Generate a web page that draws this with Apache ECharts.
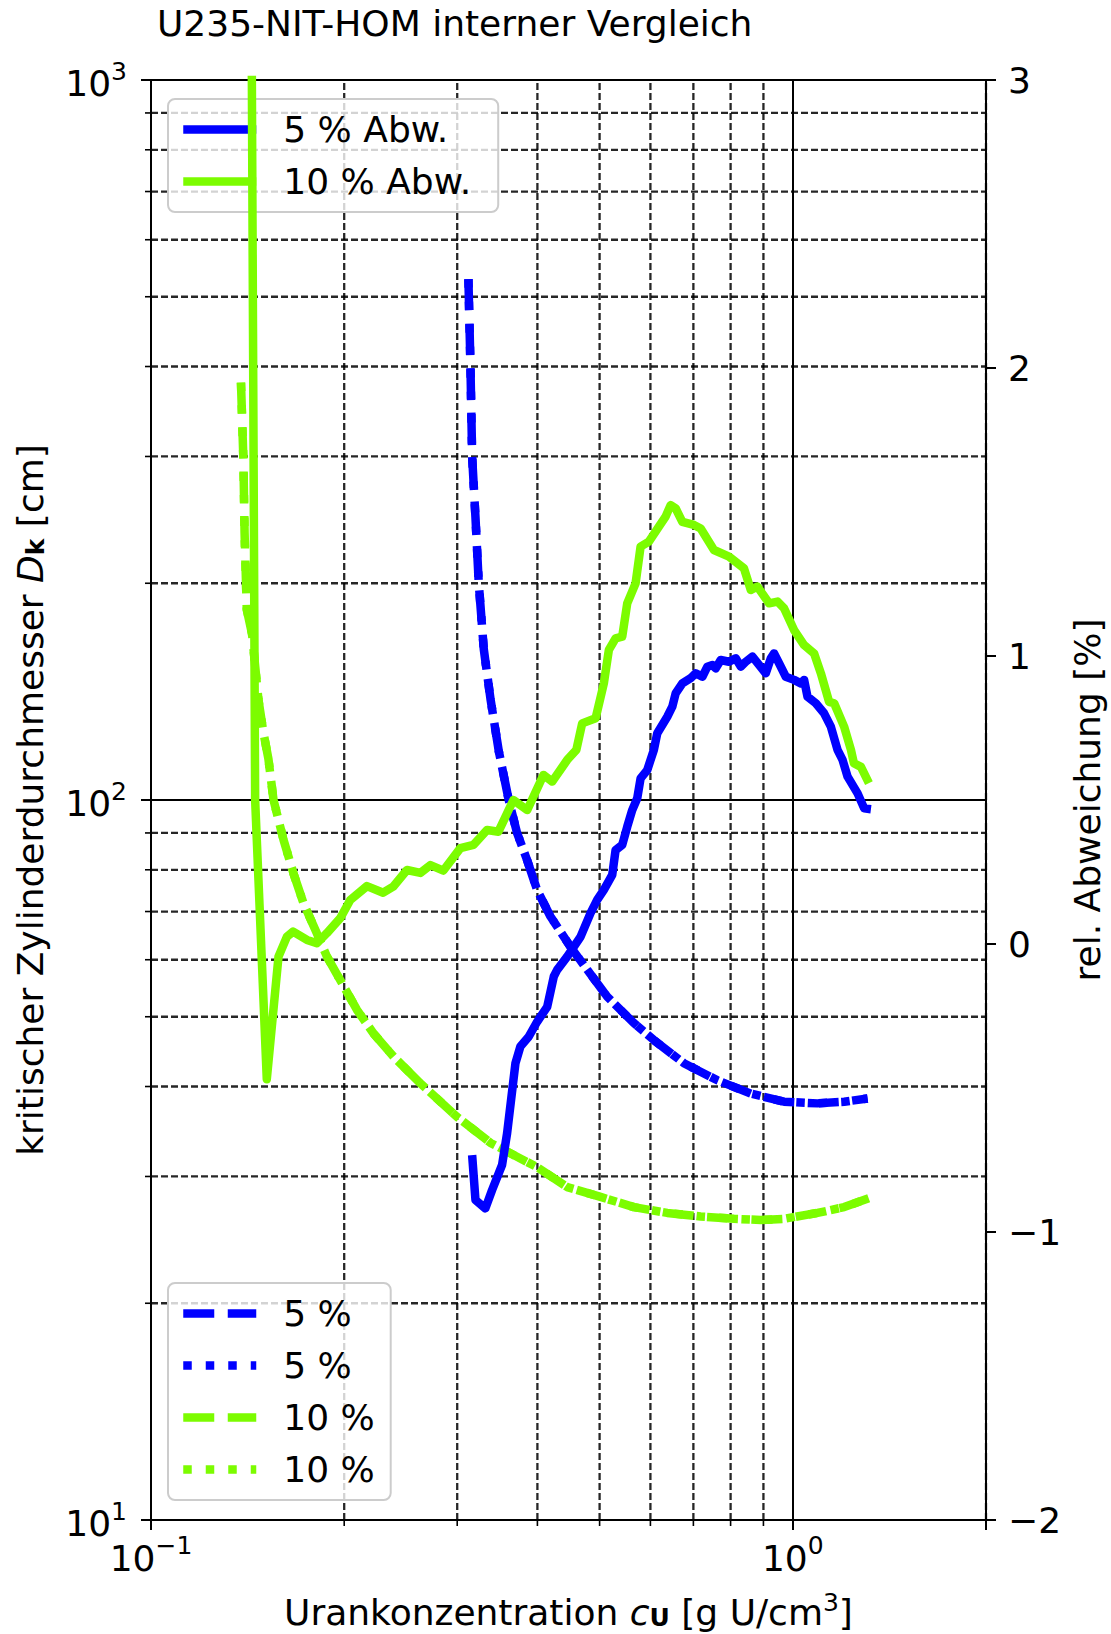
<!DOCTYPE html>
<html>
<head>
<meta charset="utf-8">
<style>
  html, body { margin: 0; padding: 0; background: #ffffff; }
  #chart { width: 1111px; height: 1634px; }
</style>
<script src="https://cdn.jsdelivr.net/npm/echarts@6/dist/echarts.min.js"></script>
</head>
<body>
<div id="chart"></div>
<script>
// ---------------- data ----------------
// 5 % enrichment, critical diameter D_k [cm], calculation 1 (dashed)
const blueDashX = [0.3123, 0.3146, 0.3165, 0.3203, 0.3241, 0.330, 0.3381, 0.3482, 0.3609, 0.3719, 0.3855, 0.3996, 0.4192, 0.4505, 0.4784, 0.5140, 0.5654, 0.6075, 0.6766, 0.7630, 0.8601, 0.9691, 1.0927, 1.2023, 1.3078];
const blueDashY = [529, 400, 300, 247, 200, 162, 138, 117, 100, 90.0, 82.5, 75.0, 68.9, 62.5, 58.1, 53.3, 49.0, 46.4, 43.1, 40.8, 39.1, 38.1, 37.9, 38.1, 38.5];
// 5 % enrichment, calculation 2 (dotted) - visually coincides with the dashed curve
const blueDotX = [0.3123, 0.3146, 0.3165, 0.3203, 0.3241, 0.330, 0.3381, 0.3482, 0.3609, 0.3719, 0.3855, 0.3996, 0.4192, 0.4505, 0.4784, 0.5140, 0.5654, 0.6075, 0.6766, 0.7630, 0.8601, 0.9691, 1.0927, 1.2023, 1.3078];
const blueDotY = [529, 400, 300, 247, 200, 162, 138, 117, 100, 90.0, 82.5, 75.0, 68.9, 62.5, 58.1, 53.3, 49.0, 46.4, 43.1, 40.8, 39.1, 38.1, 37.9, 38.1, 38.5];
// 10 % enrichment, calculation 1 (dashed)
const greenDashX = [0.1381, 0.1393, 0.1399, 0.1410, 0.1437, 0.1470, 0.1497, 0.1524, 0.1552, 0.1609, 0.1667, 0.1728, 0.1813, 0.1880, 0.1972, 0.2094, 0.2222, 0.2388, 0.2629, 0.2998, 0.3381, 0.3996, 0.4451, 0.5017, 0.5654, 0.6374, 0.7186, 0.8099, 0.8915, 0.9691, 1.0927, 1.2023, 1.3150];
const greenDashY = [380, 297, 235, 184, 170, 138, 124, 114, 100, 88.0, 79.1, 71.9, 65.3, 60.6, 56.2, 51.1, 47.4, 44.0, 40.4, 36.3, 33.4, 30.9, 29.0, 28.1, 27.2, 26.7, 26.4, 26.2, 26.1, 26.2, 26.7, 27.2, 28.0];
// 10 % enrichment, calculation 2 (dotted)
const greenDotX = [0.1381, 0.1393, 0.1399, 0.1410, 0.1437, 0.1470, 0.1497, 0.1524, 0.1552, 0.1609, 0.1667, 0.1728, 0.1813, 0.1880, 0.1972, 0.2094, 0.2222, 0.2388, 0.2629, 0.2998, 0.3381, 0.3996, 0.4451, 0.5017, 0.5654, 0.6374, 0.7186, 0.8099, 0.8915, 0.9691, 1.0927, 1.2023, 1.3150];
const greenDotY = [380, 297, 235, 184, 170, 138, 124, 114, 100, 88.0, 79.1, 71.9, 65.3, 60.6, 56.2, 51.1, 47.4, 44.0, 40.4, 36.3, 33.4, 30.9, 29.0, 28.1, 27.2, 26.7, 26.4, 26.2, 26.1, 26.2, 26.7, 27.2, 28.0];
// relative deviation [%], 5 %
const blueRelX = [0.3165, 0.3203, 0.3319, 0.3400, 0.3524, 0.3588, 0.3697, 0.3763, 0.3877, 0.3996, 0.4143, 0.4242, 0.4294, 0.4451, 0.4669, 0.4840, 0.4957, 0.5077, 0.5232, 0.5295, 0.5423, 0.5521, 0.5621, 0.5723, 0.5792, 0.5932, 0.6075, 0.6150, 0.6374, 0.6490, 0.6568, 0.6728, 0.6932, 0.7058, 0.7229, 0.7360, 0.7493, 0.7584, 0.7721, 0.7955, 0.8149, 0.8297, 0.8447, 0.8652, 0.8859, 0.9075, 0.9241, 0.9350, 0.9519, 0.9752, 1.0046, 1.0292, 1.0414, 1.0541, 1.0861, 1.1189, 1.1462, 1.1741, 1.1955, 1.2172, 1.2617, 1.2920, 1.3236];
const blueRelY = [-0.733, -0.889, -0.918, -0.854, -0.767, -0.657, -0.414, -0.356, -0.322, -0.270, -0.218, -0.113, -0.090, -0.044, 0.025, 0.107, 0.153, 0.188, 0.240, 0.326, 0.344, 0.407, 0.465, 0.506, 0.575, 0.604, 0.674, 0.732, 0.789, 0.824, 0.870, 0.905, 0.923, 0.940, 0.928, 0.963, 0.969, 0.957, 0.986, 0.980, 0.992, 0.963, 0.980, 0.998, 0.969, 0.940, 0.992, 1.009, 0.975, 0.928, 0.917, 0.905, 0.917, 0.859, 0.836, 0.801, 0.755, 0.674, 0.639, 0.581, 0.523, 0.471, 0.468];
// relative deviation [%], 10 %
const greenRelX = [0.1432, 0.1453, 0.1515, 0.1580, 0.1628, 0.1665, 0.1750, 0.1813, 0.1880, 0.1972, 0.2044, 0.2170, 0.2300, 0.2384, 0.2505, 0.2629, 0.2725, 0.2855, 0.3034, 0.3180, 0.3340, 0.3478, 0.3670, 0.3857, 0.4088, 0.4218, 0.4451, 0.4600, 0.4697, 0.4929, 0.5077, 0.5169, 0.5295, 0.5423, 0.5521, 0.5689, 0.5792, 0.5967, 0.6185, 0.6336, 0.6451, 0.6568, 0.6728, 0.7015, 0.7186, 0.7536, 0.7955, 0.8395, 0.8601, 0.8808, 0.9183, 0.9465, 0.9691, 1.0046, 1.0414, 1.0794, 1.1060, 1.1390, 1.1600, 1.2020, 1.2320, 1.2450, 1.2770, 1.3140];
const greenRelY = [3.6, 0.50, -0.47, -0.044, 0.025, 0.043, 0.014, 0.003, 0.038, 0.090, 0.153, 0.201, 0.178, 0.199, 0.257, 0.247, 0.274, 0.255, 0.333, 0.344, 0.396, 0.390, 0.500, 0.465, 0.587, 0.564, 0.639, 0.674, 0.766, 0.784, 0.905, 1.021, 1.061, 1.067, 1.183, 1.252, 1.380, 1.397, 1.449, 1.484, 1.524, 1.513, 1.466, 1.455, 1.443, 1.368, 1.345, 1.304, 1.229, 1.241, 1.183, 1.189, 1.166, 1.090, 1.038, 1.009, 0.940, 0.841, 0.836, 0.755, 0.674, 0.628, 0.615, 0.559];

// axis ticks
const xMinorTicks = [0.2, 0.3, 0.4, 0.5, 0.6, 0.7, 0.8, 0.9, 2];
const yMinorTicks = [20, 30, 40, 50, 60, 70, 80, 90, 200, 300, 400, 500, 600, 700, 800, 900];
const yRightTicks = [-2, -1, 0, 1, 2, 3];

// ---------------- styling ----------------
const FONT = 'DejaVu Sans';
const FS = 36;
const FS_SMALL = 25;
const BLUE = '#0000ff';
const GREEN = '#7cfc00';
const LW = 8.5;
const DASH = [31, 13.5];
const DOT = [8.5, 14];
const GRIDC = '#000000';

function zip(xs, ys) { return xs.map((x, i) => [x, ys[i]]); }

function powLabel(v) {
  const e = Math.log10(v);
  const r = Math.round(e);
  if (Math.abs(e - r) > 1e-6) return '';
  const s = r < 0 ? '\u2212' + Math.abs(r) : String(r);
  return '{b|10}{s|' + s + '}';
}

const tickRich = {
  b: { fontFamily: FONT, fontSize: FS, lineHeight: 43, verticalAlign: 'bottom', color: '#000' },
  s: { fontFamily: FONT, fontSize: FS_SMALL, lineHeight: 25, verticalAlign: 'top', color: '#000' }
};
const nameRich = {
  n: { fontFamily: FONT, fontSize: FS, lineHeight: 40, verticalAlign: 'bottom', color: '#000' },
  i: { fontFamily: FONT, fontSize: FS, lineHeight: 40, verticalAlign: 'bottom', fontStyle: 'italic', color: '#000' },
  k: { fontFamily: FONT, fontSize: FS_SMALL, lineHeight: 24, verticalAlign: 'bottom', fontWeight: 'bold', color: '#000' },
  s: { fontFamily: FONT, fontSize: FS_SMALL, lineHeight: 24, verticalAlign: 'top', color: '#000' }
};

function renderXMinor(params, api) {
  const cs = params.coordSys;
  const px = api.coord([api.value(0), api.value(1)])[0];
  const top = cs.y, bottom = cs.y + cs.height;
  return {
    type: 'group',
    children: [
      { type: 'line', shape: { x1: px, y1: bottom, x2: px, y2: top },
        style: { stroke: GRIDC, opacity: 0.85, lineWidth: 2.3, lineDash: [7, 3] } },
      { type: 'line', shape: { x1: px, y1: bottom, x2: px, y2: bottom + 6 },
        style: { stroke: '#000', lineWidth: 1.6 } }
    ]
  };
}
function renderYMinor(params, api) {
  const cs = params.coordSys;
  const py = api.coord([api.value(0), api.value(1)])[1];
  const left = cs.x, right = cs.x + cs.width;
  return {
    type: 'group',
    children: [
      { type: 'line', shape: { x1: left, y1: py, x2: right, y2: py },
        style: { stroke: GRIDC, opacity: 0.85, lineWidth: 2.3, lineDash: [7, 3] } },
      { type: 'line', shape: { x1: left - 6, y1: py, x2: left, y2: py },
        style: { stroke: '#000', lineWidth: 1.6 } }
    ]
  };
}

const legendCommon = {
  orient: 'vertical',
  left: 168,
  itemWidth: 73,
  itemHeight: 12,
  itemGap: 11,
  backgroundColor: 'rgba(255,255,255,0.8)',
  borderColor: '#cccccc',
  borderWidth: 2,
  borderRadius: 7,
  lineStyle: { width: LW },
  itemStyle: { opacity: 0 },
  textStyle: { fontFamily: FONT, fontSize: FS, color: '#000', lineHeight: 41, padding: [0, 0, 0, 22] },
  formatter: (n) => n.split('#')[0],
  selectedMode: false
};

const chart = echarts.init(document.getElementById('chart'), null, { renderer: 'svg' });
chart.setOption({
  animation: false,
  backgroundColor: '#ffffff',
  title: {
    text: 'U235-NIT-HOM interner Vergleich',
    left: 157, top: 2, padding: 0,
    textStyle: { fontFamily: FONT, fontSize: FS, fontWeight: 'normal', color: '#000', lineHeight: 43 }
  },
  grid: { left: 151, right: 125, top: 80, bottom: 114, show: true, borderColor: '#000', borderWidth: 2,
          backgroundColor: '#fff', outerBoundsMode: 'none', containLabel: false },
  legend: [
    Object.assign({}, legendCommon, {
      top: 99, padding: [10, 27, 10, 11],
      data: ['5 % Abw.', '10 % Abw.']
    }),
    Object.assign({}, legendCommon, {
      top: 1283, padding: [10, 16, 10, 11],
      data: ['5 %#1', '5 %#2', '10 %#1', '10 %#2']
    })
  ],
  xAxis: {
    type: 'log', logBase: 10, min: 0.1, max: 2, interval: 1,
    name: '{n|Urankonzentration }{i|c}{k|U}{n| [g U/cm}{s|3}{n|]}',
    nameLocation: 'middle', nameGap: 90, nameMoveOverlap: false,
    nameTextStyle: { rich: nameRich, align: 'center', verticalAlign: 'middle' },
    axisLine: { show: true, onZero: false, lineStyle: { color: '#000', width: 2 } },
    axisTick: { show: true, length: 10, lineStyle: { color: '#000', width: 2 } },
    axisLabel: { margin: 13, formatter: powLabel, rich: tickRich },
    splitLine: { show: true, lineStyle: { color: '#000', width: 2, type: 'solid' } }
  },
  yAxis: [
    {
      type: 'log', logBase: 10, min: 10, max: 1000, interval: 1, position: 'left',
      name: '{n|kritischer Zylinderdurchmesser }{i|D}{k|k}{n| [cm]}',
      nameLocation: 'middle', nameGap: 123, nameRotate: 90, nameMoveOverlap: false,
      nameTextStyle: { rich: nameRich, align: 'center', verticalAlign: 'middle' },
      axisLine: { show: true, onZero: false, lineStyle: { color: '#000', width: 2 } },
      axisTick: { show: true, length: 10, lineStyle: { color: '#000', width: 2 } },
      axisLabel: { margin: 24, formatter: powLabel, rich: tickRich },
      splitLine: { show: true, lineStyle: { color: '#000', width: 2, type: 'solid' } }
    },
    {
      type: 'value', min: yRightTicks[0], max: yRightTicks[yRightTicks.length - 1], interval: 1, position: 'right',
      name: 'rel. Abweichung [%]',
      nameLocation: 'middle', nameGap: 101, nameRotate: 90, nameMoveOverlap: false,
      nameTextStyle: { fontFamily: FONT, fontSize: FS, color: '#000', lineHeight: 40, align: 'center', verticalAlign: 'middle' },
      axisLine: { show: true, onZero: false, lineStyle: { color: '#000', width: 2 } },
      axisTick: { show: true, length: 10, lineStyle: { color: '#000', width: 2 } },
      axisLabel: {
        margin: 22, fontFamily: FONT, fontSize: FS, color: '#000',
        formatter: (v) => (v < 0 ? '\u2212' + Math.abs(v) : String(v))
      },
      splitLine: { show: false }
    }
  ],
  series: [
    { type: 'custom', name: 'xminor', coordinateSystem: 'cartesian2d', xAxisIndex: 0, yAxisIndex: 0,
      silent: true, z: 1, renderItem: renderXMinor, data: xMinorTicks.map(v => [v, 100]) },
    { type: 'custom', name: 'yminor', coordinateSystem: 'cartesian2d', xAxisIndex: 0, yAxisIndex: 0,
      silent: true, z: 1, renderItem: renderYMinor, data: yMinorTicks.map(v => [1, v]) },
    { type: 'line', name: '5 %#1', yAxisIndex: 0, data: zip(blueDashX, blueDashY), symbol: 'none', z: 3,
      lineStyle: { color: BLUE, width: LW, type: DASH, cap: 'butt' }, itemStyle: { color: BLUE } },
    { type: 'line', name: '5 %#2', yAxisIndex: 0, data: zip(blueDotX, blueDotY), symbol: 'none', z: 3,
      lineStyle: { color: BLUE, width: LW, type: DOT, cap: 'butt' }, itemStyle: { color: BLUE } },
    { type: 'line', name: '10 %#1', yAxisIndex: 0, data: zip(greenDashX, greenDashY), symbol: 'none', z: 3,
      lineStyle: { color: GREEN, width: LW, type: DASH, cap: 'butt' }, itemStyle: { color: GREEN } },
    { type: 'line', name: '10 %#2', yAxisIndex: 0, data: zip(greenDotX, greenDotY), symbol: 'none', z: 3,
      lineStyle: { color: GREEN, width: LW, type: DOT, cap: 'butt' }, itemStyle: { color: GREEN } },
    { type: 'line', name: '5 % Abw.', yAxisIndex: 1, data: zip(blueRelX, blueRelY), symbol: 'none', z: 4,
      lineStyle: { color: BLUE, width: LW, type: 'solid', join: 'round' }, itemStyle: { color: BLUE } },
    { type: 'line', name: '10 % Abw.', yAxisIndex: 1, data: zip(greenRelX, greenRelY), symbol: 'none', z: 4,
      lineStyle: { color: GREEN, width: LW, type: 'solid', join: 'round' }, itemStyle: { color: GREEN } }
  ]
});
</script>
</body>
</html>
